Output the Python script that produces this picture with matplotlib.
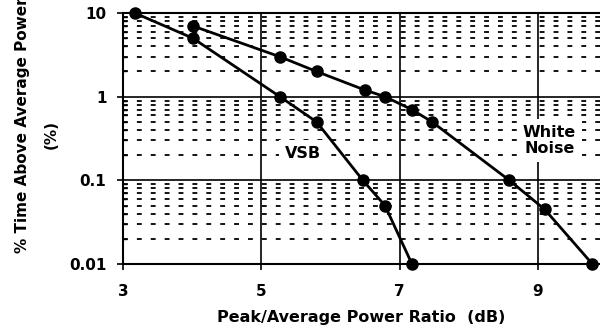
import matplotlib
matplotlib.use("Agg")
import matplotlib.pyplot as plt
from matplotlib.ticker import LogLocator, NullFormatter, FixedLocator

plt.rcParams['font.family'] = ['DejaVu Sans']
plt.rcParams['font.weight'] = 'bold'
plt.rcParams['lines.scale_dashes'] = False

# peak-to-average ratio (dB) vs. % of time above average power
vsb_db = [3.17, 4.01, 5.27, 5.80, 6.47, 6.79, 7.18]
vsb_pct = [10, 5, 1, 0.5, 0.1, 0.05, 0.01]

noise_db = [4.01, 5.27, 5.80, 6.50, 6.79, 7.18, 7.47, 8.59, 9.10, 9.79]
noise_pct = [7, 3, 2, 1.2, 1, 0.7, 0.5, 0.1, 0.045, 0.01]

xticks = [3, 5, 7, 9]
yticks = [0.01, 0.1, 1, 10]
ytick_labels = ['0.01', '0.1', '1', '10']

fig = plt.figure(figsize=(6, 3.33), dpi=100)
ax = fig.add_axes([0.205, 0.207, 0.795, 0.754])

ax.set_yscale('log')
ax.set_xlim(3, 9.9)
ax.set_ylim(0.01, 10)

# dashed minor grid, solid major grid
ax.yaxis.set_minor_locator(LogLocator(base=10, subs=range(2, 10)))
ax.yaxis.set_minor_formatter(NullFormatter())
ax.grid(True, which='minor', axis='y', color='black', linewidth=1.3,
        linestyle=(0, (3.5, 6.5)))
ax.set_xticks(xticks)
ax.set_xticklabels([str(t) for t in xticks])
ax.set_yticks(yticks)
ax.set_yticklabels(ytick_labels)
ax.grid(True, which='major', color='black', linewidth=1.2)
ax.xaxis.set_minor_locator(FixedLocator([]))

ax.spines['right'].set_visible(False)
for s in ['left', 'bottom', 'top']:
    ax.spines[s].set_linewidth(1.5)

ax.tick_params(axis='both', which='major', direction='out', length=4, width=1.2,
               labelsize=11)
ax.tick_params(axis='y', which='major', pad=8)
ax.tick_params(axis='x', which='major', pad=10)
ax.tick_params(axis='y', which='minor', direction='in', length=3, width=1)
ax.set_axisbelow(True)

ax.plot(vsb_db, vsb_pct, color='black', linewidth=2, marker='o',
        markersize=8, clip_on=False, zorder=5)
ax.plot(noise_db, noise_pct, color='black', linewidth=2, marker='o',
        markersize=8, clip_on=False, zorder=5)

ax.text(5.6, 0.21, 'VSB', fontsize=11.5, fontweight='bold', ha='center',
        va='center', bbox=dict(facecolor='white', edgecolor='none', pad=4), zorder=3)
ax.text(9.17, 0.3, 'White\nNoise', fontsize=11.5, fontweight='bold', ha='center',
        va='center', linespacing=1.15,
        bbox=dict(facecolor='white', edgecolor='none', pad=4), zorder=3)

ax.set_xlabel('Peak/Average Power Ratio  (dB)', fontsize=11.5, fontweight='bold',
              labelpad=8)
fig.text(0.037, 0.24, '% Time Above Average Power', rotation=90, fontsize=11,
         fontweight='bold', ha='center', va='bottom')
fig.text(0.085, 0.595, '(%)', rotation=90, fontsize=11, fontweight='bold',
         ha='center', va='center')

fig.savefig('out.png', dpi=100)
